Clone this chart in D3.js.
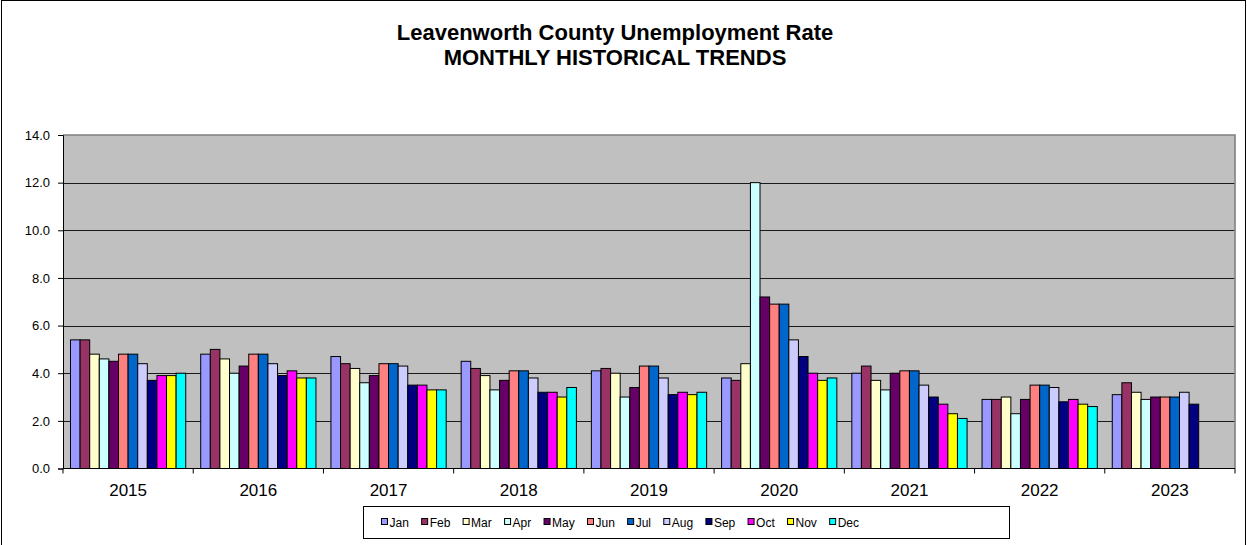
<!DOCTYPE html>
<html><head><meta charset="utf-8">
<script src="https://cdn.jsdelivr.net/npm/d3@7"></script>
<style>body{margin:0;background:#fff;font-family:Arial,"Liberation Sans",sans-serif;}</style>
</head><body>
<svg id="chart" width="1247" height="545"></svg>
<script>
const years = ["2015","2016","2017","2018","2019","2020","2021","2022","2023"];
const months = ["Jan","Feb","Mar","Apr","May","Jun","Jul","Aug","Sep","Oct","Nov","Dec"];
const colors = ["#9999FF","#993366","#FFFFCC","#CCFFFF","#660066","#FF8080","#0066CC","#CCCCFF","#000080","#FF00FF","#FFFF00","#00FFFF"];
const rate2015 = [5.4,5.4,4.8,4.6,4.5,4.8,4.8,4.4,3.7,3.9,3.9,4.0];
const rate2016 = [4.8,5.0,4.6,4.0,4.3,4.8,4.8,4.4,3.9,4.1,3.8,3.8];
const rate2017 = [4.7,4.4,4.2,3.6,3.9,4.4,4.4,4.3,3.5,3.5,3.3,3.3];
const rate2018 = [4.5,4.2,3.9,3.3,3.7,4.1,4.1,3.8,3.2,3.2,3.0,3.4];
const rate2019 = [4.1,4.2,4.0,3.0,3.4,4.3,4.3,3.8,3.1,3.2,3.1,3.2];
const rate2020 = [3.8,3.7,4.4,12.0,7.2,6.9,6.9,5.4,4.7,4.0,3.7,3.8];
const rate2021 = [4.0,4.3,3.7,3.3,4.0,4.1,4.1,3.5,3.0,2.7,2.3,2.1];
const rate2022 = [2.9,2.9,3.0,2.3,2.9,3.5,3.5,3.4,2.8,2.9,2.7,2.6];
const rate2023 = [3.1,3.6,3.2,2.9,3.0,3.0,3.0,3.2,2.7];
const yTicks = [0,2,4,6,8,10,12,14];
const titleLines = ["Leavenworth County Unemployment Rate","MONTHLY HISTORICAL TRENDS"];

const series = [rate2015,rate2016,rate2017,rate2018,rate2019,rate2020,rate2021,rate2022,rate2023];
const svg = d3.select("#chart");
const L = 63, R = 1235, T = 135, B = 468.5;

// outer border
svg.append("rect").attr("x",1.5).attr("y",0.5).attr("width",1244).attr("height",560)
  .attr("fill","#fff").attr("stroke","#000").attr("stroke-width",1);

// title
svg.append("g").selectAll("text").data(titleLines).join("text")
  .attr("x",615).attr("y",(d,i)=>40+i*25).attr("text-anchor","middle")
  .attr("font-size","22px").attr("font-weight","bold").attr("fill","#000").text(d=>d);

const y = d3.scaleLinear().domain([0,14]).range([B,T]);
const x0 = d3.scaleBand().domain(years).range([L,R]).paddingInner(0.115).paddingOuter(0.0575);
const x1 = d3.scaleBand().domain(months).range([0,x0.bandwidth()]);
const color = d3.scaleOrdinal().domain(months).range(colors);

// plot background
svg.append("rect").attr("x",L).attr("y",T).attr("width",R-L).attr("height",B-T).attr("fill","#C0C0C0");
// gridlines
svg.append("g").selectAll("line").data(yTicks.filter(t=>t>0&&t<14)).join("line")
  .attr("x1",L).attr("x2",R).attr("y1",d=>Math.round(y(d))+0.5).attr("y2",d=>Math.round(y(d))+0.5)
  .attr("stroke","#1a1a1a").attr("stroke-width",1);
// top & right border
svg.append("path").attr("d",`M${L},${T} H${R} V${B}`).attr("fill","none").attr("stroke","#808080").attr("stroke-width",1.6);

// bars
const groups = svg.append("g").selectAll("g").data(years).join("g")
  .attr("transform",d=>`translate(${x0(d)},0)`);
groups.selectAll("rect").data((d,i)=>series[i].map((v,j)=>({m:months[j],v}))).join("rect")
  .attr("x",d=>x1(d.m)).attr("width",x1.bandwidth())
  .attr("y",d=>y(d.v)).attr("height",d=>y(0)-y(d.v))
  .attr("fill",d=>color(d.m)).attr("stroke","#000").attr("stroke-width",1);

// y axis
const yAxis = d3.axisLeft(y).tickValues(yTicks).tickFormat(d3.format(".1f")).tickSize(5).tickPadding(8);
const ya = svg.append("g").attr("transform",`translate(${L},0)`).call(yAxis);
ya.select(".domain").attr("stroke","#000");
ya.selectAll("line").attr("stroke","#000");
ya.selectAll("text").attr("font-size","13px").attr("font-family","Arial, 'Liberation Sans', sans-serif").attr("fill","#000");

// x axis
svg.append("line").attr("x1",L).attr("x2",R).attr("y1",B).attr("y2",B).attr("stroke","#000").attr("stroke-width",1);
const step = x0.step();
svg.append("g").selectAll("line").data(d3.range(years.length+1)).join("line")
  .attr("x1",i=>L+i*step).attr("x2",i=>L+i*step).attr("y1",B).attr("y2",B+5).attr("stroke","#000");
svg.append("g").selectAll("text").data(years).join("text")
  .attr("x",d=>x0(d)+x0.bandwidth()/2).attr("y",496).attr("text-anchor","middle")
  .attr("font-size","17px").attr("fill","#000").text(d=>d);

// legend
const lg = svg.append("g");
lg.append("rect").attr("x",363.5).attr("y",506.5).attr("width",646).attr("height",32).attr("fill","#fff").attr("stroke","#000");
const items = lg.selectAll("g").data(months).join("g");
items.append("text").attr("font-size","12px").attr("y",526.5).attr("fill","#000").text(d=>d);
const widths = [];
items.select("text").each(function(){widths.push(this.getComputedTextLength());});
const totalSpan = 484;
const used = d3.sum(widths) + months.length*9;
const gap = (totalSpan - used)/(months.length-1);
let cx = 381;
items.each(function(d,i){
  const g = d3.select(this);
  g.insert("rect","text").attr("x",cx+0.5).attr("y",518.5).attr("width",6).attr("height",6)
    .attr("fill",color(d)).attr("stroke","#000").attr("stroke-width",1);
  g.select("text").attr("x",cx+8.5);
  cx += 8.5 + widths[i] + gap;
});
</script>
</body></html>
